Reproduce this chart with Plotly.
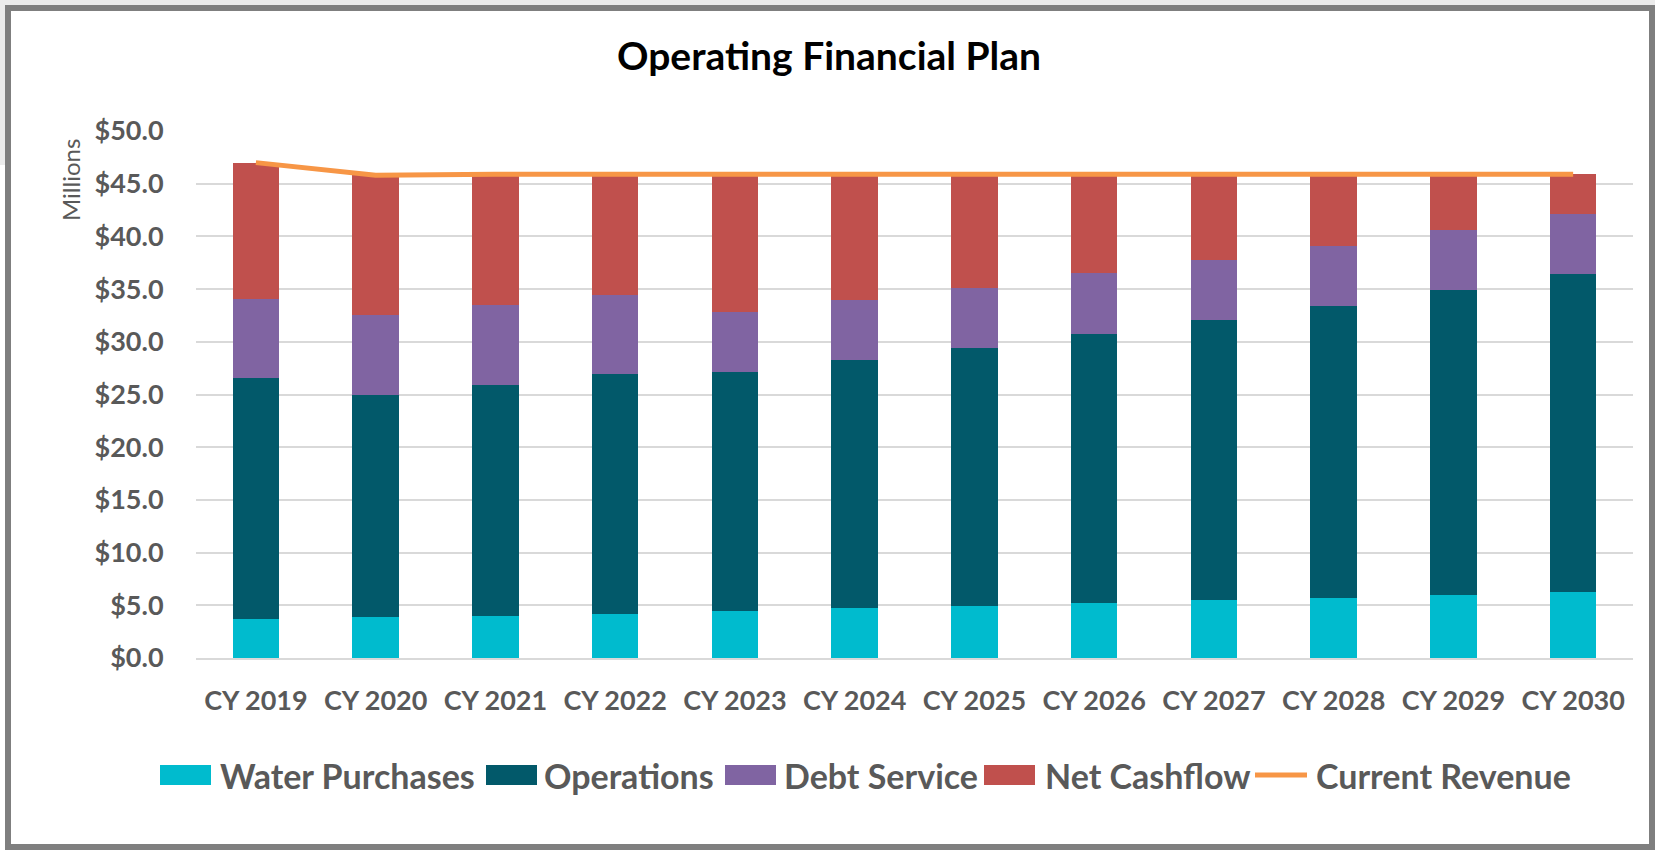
import plotly.graph_objects as go

# ---- data (millions of dollars) ----
years = ["CY 2019", "CY 2020", "CY 2021", "CY 2022", "CY 2023", "CY 2024",
         "CY 2025", "CY 2026", "CY 2027", "CY 2028", "CY 2029", "CY 2030"]
water_purchases = [3.7, 3.9, 4.0, 4.2, 4.5, 4.7, 4.9, 5.2, 5.5, 5.7, 6.0, 6.3]
operations = [22.9, 21.1, 21.9, 22.7, 22.6, 23.6, 24.5, 25.5, 26.6, 27.7, 28.9, 30.1]
debt_service = [7.5, 7.5, 7.6, 7.5, 5.7, 5.7, 5.7, 5.8, 5.7, 5.7, 5.7, 5.7]
net_cashflow = [12.9, 13.3, 12.4, 11.5, 13.1, 11.9, 10.8, 9.4, 8.1, 6.8, 5.3, 3.8]
current_revenue = [47.0, 45.8, 45.9, 45.9, 45.9, 45.9, 45.9, 45.9, 45.9, 45.9, 45.9, 45.9]

# ---- styling ----
W, H = 1655, 850
PL, PR, PT, PB = 196, 1633, 131, 658          # plot area in pixels
FONT = "Lato"
GREY_TEXT = "#595959"
C_WATER, C_OPS, C_DEBT, C_NET, C_REV = "#00BBCE", "#02596A", "#8064A2", "#C0504D", "#F79646"


def xp(px):
    return (px - PL) / (PR - PL)


def yp(py):
    return (PB - py) / (PB - PT)


fig = go.Figure()
for name, vals, col in [("Water Purchases", water_purchases, C_WATER),
                        ("Operations", operations, C_OPS),
                        ("Debt Service", debt_service, C_DEBT),
                        ("Net Cashflow", net_cashflow, C_NET)]:
    fig.add_trace(go.Bar(x=years, y=vals, name=name, marker=dict(color=col, line=dict(width=0)),
                         showlegend=False))
fig.add_trace(go.Scatter(x=years, y=current_revenue, name="Current Revenue", mode="lines",
                         line=dict(color=C_REV, width=5), showlegend=False))

fig.update_layout(
    width=W, height=H,
    barmode="stack", bargap=0.61,
    margin=dict(l=PL, r=W - PR, t=PT, b=H - PB, pad=0),
    paper_bgcolor="white", plot_bgcolor="white",
    font=dict(family=FONT, color=GREY_TEXT),
    showlegend=False,
)
fig.update_yaxes(range=[0, 50], dtick=5, tickformat="$.1f", automargin=False,
                 showgrid=True, gridcolor="#D9D9D9", gridwidth=2, zeroline=False,
                 showline=False, ticks="outside", ticklen=26, tickcolor="rgba(0,0,0,0)",
                 tickfont=dict(family=FONT, size=27, color=GREY_TEXT, weight="bold"))
fig.update_xaxes(automargin=False, showgrid=False, showline=True, linecolor="#D9D9D9", linewidth=2,
                 ticks="outside", ticklen=18, tickcolor="rgba(0,0,0,0)",
                 tickfont=dict(family=FONT, size=27, color=GREY_TEXT, weight="bold"))

shapes = []
annotations = []

# outer backdrop and frame
shapes.append(dict(type="rect", xref="paper", yref="paper", x0=xp(0), x1=xp(W), y0=yp(5), y1=yp(0),
                   fillcolor="#EBEBEB", line=dict(width=0), layer="below"))
shapes.append(dict(type="rect", xref="paper", yref="paper", x0=xp(0), x1=xp(5), y0=yp(165), y1=yp(0),
                   fillcolor="#EBEBEB", line=dict(width=0), layer="below"))
shapes.append(dict(type="rect", xref="paper", yref="paper", x0=xp(8), x1=xp(1652), y0=yp(847), y1=yp(8),
                   fillcolor="rgba(0,0,0,0)", line=dict(color="#7F7F7F", width=6)))

# title and axis caption
annotations.append(dict(text="<b>Operating Financial Plan</b>", xref="paper", yref="paper",
                        x=xp(829), y=yp(55), xanchor="center", yanchor="middle", showarrow=False,
                        font=dict(family=FONT, size=39, color="#000000")))
annotations.append(dict(text="Millions", xref="paper", yref="paper", textangle=-90,
                        x=xp(70), y=yp(180), xanchor="center", yanchor="middle", showarrow=False,
                        font=dict(family=FONT, size=24, color=GREY_TEXT)))

# legend row
legend_items = [("Water Purchases", C_WATER, "box", 160, 218),
                ("Operations", C_OPS, "box", 486, 542),
                ("Debt Service", C_DEBT, "box", 725, 782),
                ("Net Cashflow", C_NET, "box", 984, 1043),
                ("Current Revenue", C_REV, "line", 1253, 1314)]
LY = 775
for label, col, kind, sx, tx in legend_items:
    if kind == "box":
        shapes.append(dict(type="rect", xref="paper", yref="paper", x0=xp(sx), x1=xp(sx + 51),
                           y0=yp(LY + 10), y1=yp(LY - 10), fillcolor=col, line=dict(width=0)))
    else:
        shapes.append(dict(type="line", xref="paper", yref="paper", x0=xp(sx + 2), x1=xp(sx + 54),
                           y0=yp(LY), y1=yp(LY), line=dict(color=col, width=5)))
    annotations.append(dict(text=f"<b>{label}</b>", xref="paper", yref="paper", x=xp(tx), y=yp(LY),
                            xanchor="left", yanchor="middle", showarrow=False,
                            font=dict(family=FONT, size=34, color=GREY_TEXT)))

fig.update_layout(shapes=shapes, annotations=annotations)
fig.write_html("out.html")
